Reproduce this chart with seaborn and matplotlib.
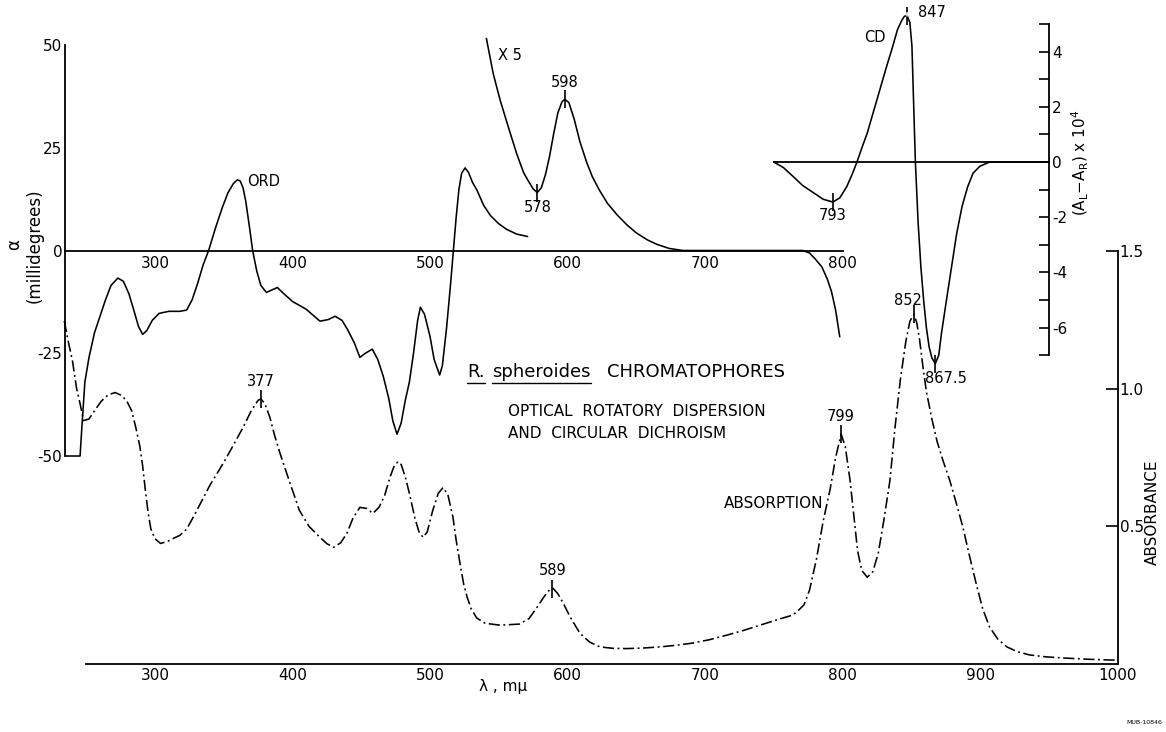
import numpy as np
import matplotlib
matplotlib.use("Agg")
import matplotlib.pyplot as plt
import seaborn as sns
from matplotlib.lines import Line2D

# ---------------- data ----------------
ord_nm = [235, 245.5, 247, 249, 252, 256, 260, 264, 268, 273, 277, 281, 285, 288, 291,
          294, 298, 303, 310, 318, 323, 327, 331, 335, 339, 344, 349, 353, 357, 360,
          362, 364, 366, 369, 371, 374, 377, 381, 385, 389, 393, 400, 410, 420, 426, 431,
          436, 440, 445, 449, 453, 458, 462, 466, 470, 473, 476, 479, 482, 485, 488,
          491, 493, 496, 500, 503, 507, 509, 512, 515, 517, 519, 521, 523, 525.5, 528,
          531, 534, 539, 544, 550, 556, 563, 571]
ord_mdeg = [-50, -50, -42, -32, -26, -20, -16, -12, -8.5, -6.7, -7.5, -10.5, -15, -18.5, -20.4,
            -19.5, -17, -15.3, -14.8, -14.8, -14.5, -12, -8, -3.5, 0, 5.5, 10.5, 14, 16.3, 17.2,
            16.9, 15.3, 12, 5, 0, -5, -8.5, -10.2, -9.6, -9, -10.3, -12.4, -14.3, -17.2, -16.8, -16,
            -17, -19.2, -22.5, -26, -25, -24, -26.5, -30.6, -36, -41.5, -44.7, -42, -36.5, -32, -25,
            -17, -13.8, -15.5, -20.9, -26.5, -30.3, -28, -19, -8, 0, 8, 14.8, 18.8, 20.1, 19,
            16.5, 14.8, 11, 8.5, 6.5, 5.1, 4, 3.4]

ordx5_nm = [541, 546, 551, 557, 563, 568, 571, 575, 578, 581, 584, 587, 590, 593, 596,
            598, 601, 605, 609, 614, 618, 623, 629, 636, 643, 650, 658, 665, 674, 684,
            700, 720, 740, 760, 771, 776, 780, 785, 789, 792, 795, 798]
ordx5_mdeg = [51.6, 43, 36.6, 30, 23.6, 19, 17.2, 15, 14.1, 15.3, 18.5, 23, 28.5, 33.5, 36.2,
              36.8, 36, 31.8, 26.5, 21.4, 18, 14.8, 11.5, 8.7, 6.3, 4.3, 2.6, 1.5, 0.5, 0,
              0, 0, 0, 0, 0, -0.6, -2, -4, -7, -10, -14.5, -21]

cd_nm = [750, 757, 764, 771, 778.5, 786, 793, 798, 803, 807, 810.5, 814, 818, 821.5, 825,
         828.5, 832, 836, 840, 843, 845, 847, 849, 850.5, 851.5, 853, 855, 857, 859, 861, 863,
         865, 867.5, 870, 872, 875, 879, 883, 887, 891, 895, 900, 907, 950]
cd_val = [0, -0.2, -0.52, -0.85, -1.1, -1.35, -1.45, -1.3, -0.9, -0.45, 0, 0.5, 1.05, 1.65, 2.25,
          2.85, 3.45, 4.1, 4.8, 5.12, 5.28, 5.3, 5.05, 4.2, 2.5, 0, -2.2, -3.8, -5.0, -6.0, -6.7,
          -7.1, -7.3, -7.0, -6.2, -5.2, -3.9, -2.6, -1.6, -0.9, -0.4, -0.15, 0, 0]

abs_nm = [234, 237, 240, 243, 245.5, 248, 252, 256, 261, 266, 271, 276, 280, 283, 286,
          289, 291, 293, 295, 297, 300, 304, 309, 314, 318, 323, 328, 333, 340, 349.5,
          357, 364, 370, 375, 377, 380, 383.6, 387, 391, 398, 405, 412, 420, 425, 430,
          435, 439.6, 444, 449, 454, 458.5, 463, 467, 471, 474, 476.7, 479, 482, 485, 489,
          492, 495, 498, 502, 506, 509.5, 513, 516.7, 519, 522, 524.5, 527, 530, 534, 540,
          551, 565, 572, 578, 583, 587, 589.5, 593, 597, 602, 609, 616, 623.6, 633, 643,
          655, 667, 679, 691, 703, 716, 728, 740, 752, 764, 769, 772, 776, 781, 786,
          791, 795, 799, 802, 805.5, 808, 811, 814, 818, 822, 826, 830, 834.5, 838, 842,
          846, 849, 852, 854, 856, 858.5, 861, 865, 868.7, 873, 878, 883, 887.6, 892, 897.8,
          902, 907, 913, 919.6, 927, 936, 948, 960, 980, 998]
abs_val = [1.246, 1.17, 1.10, 1.0, 0.946, 0.884, 0.89, 0.92, 0.955, 0.978, 0.986, 0.975, 0.95, 0.92, 0.86,
           0.79, 0.72, 0.63, 0.55, 0.49, 0.455, 0.438, 0.445, 0.458, 0.467, 0.49, 0.535, 0.583, 0.65, 0.728,
           0.795, 0.859, 0.92, 0.958, 0.963, 0.945, 0.895, 0.83, 0.764, 0.66, 0.558, 0.5, 0.46, 0.437, 0.424,
           0.44, 0.475, 0.53, 0.569, 0.565, 0.547, 0.57, 0.612, 0.68, 0.72, 0.735, 0.725, 0.68, 0.62, 0.53,
           0.48, 0.46, 0.48, 0.558, 0.62, 0.641, 0.615, 0.533, 0.45, 0.36, 0.29, 0.243, 0.2, 0.167, 0.148,
           0.141, 0.145, 0.165, 0.207, 0.245, 0.27, 0.275, 0.255, 0.22, 0.17, 0.112, 0.08, 0.062, 0.057, 0.056,
           0.058, 0.062, 0.068, 0.076, 0.088, 0.105, 0.122, 0.141, 0.16, 0.178, 0.2, 0.215, 0.268, 0.38, 0.52,
           0.635, 0.75, 0.835, 0.79, 0.667, 0.55, 0.41, 0.34, 0.315, 0.335, 0.402, 0.52, 0.667, 0.85, 1.03,
           1.17, 1.245, 1.27, 1.24, 1.18, 1.08, 0.99, 0.89, 0.81, 0.74, 0.667, 0.58, 0.496, 0.4, 0.28,
           0.2, 0.134, 0.09, 0.062, 0.045, 0.033, 0.026, 0.022, 0.017, 0.014]

abs_peaks = [377, 589, 799, 852]
abs_peak_labels = ["377", "589", "799", "852"]
ordx5_marks = [598, 578]
ordx5_mark_labels = ["598", "578"]
cd_marks = [793, 847, 867.5]
cd_mark_labels = ["793", "847", "867.5"]

ord_xticks = [300, 400, 500, 600, 700, 800]
ord_xminor = [250, 350, 450, 550, 650, 750]
ord_yticks = [-50, -25, 0, 25, 50]
abs_xticks = [300, 400, 500, 600, 700, 800, 900, 1000]
abs_xminor = [250, 350, 450, 550, 650, 750, 850, 950]
abs_yticks = [0.5, 1.0, 1.5]
cd_xticks = [800, 900]
cd_xminor = [750, 850]
cd_yticks = [-6, -4, -2, 0, 2, 4]
cd_yminor = [-7, -5, -3, -1, 1, 3, 5]

# ---------------- figure ----------------
W, H = 1166, 732
sns.set_theme(style="white")
plt.rcParams['font.family'] = ['DejaVu Sans']
plt.rcParams['axes.unicode_minus'] = False
plt.rcParams['mathtext.default'] = 'regular'
for k in ('text.color', 'axes.labelcolor', 'xtick.color', 'ytick.color', 'axes.edgecolor'):
    plt.rcParams[k] = 'black'

fig = plt.figure(figsize=(W / 100, H / 100), dpi=100)
fig.patch.set_facecolor('white')

def fpos(x, y):
    return x / W, 1 - y / H

XL = (187.27, 1035.27)
LW = 1.15
TXT = 11

ax_a = fig.add_axes([0, 0, 1, 1])
ax_o = fig.add_axes([0, 0, 1, 1])
ax_c = fig.add_axes([0, 0, 1, 1])
for ax in (ax_a, ax_o, ax_c):
    ax.set_facecolor('none')
    ax.set_xlim(*XL)
    for s in ax.spines.values():
        s.set_linewidth(1.3)
        s.set_color('black')

ax_o.set_ylim(-117.15, 60.95)
ax_c.set_ylim(-20.65, 5.87)
ax_a.set_ylim(-0.247, 2.412)

# curves
sns.lineplot(x=ord_nm, y=ord_mdeg, ax=ax_o, color='black', lw=LW, estimator=None, sort=False)
sns.lineplot(x=ordx5_nm, y=ordx5_mdeg, ax=ax_o, color='black', lw=LW, estimator=None, sort=False)
sns.lineplot(x=cd_nm, y=cd_val, ax=ax_c, color='black', lw=LW, estimator=None, sort=False)
sns.lineplot(x=abs_nm, y=abs_val, ax=ax_a, color='black', lw=LW, estimator=None, sort=False,
             linestyle=(0, (7, 2.2, 1.2, 2.2)))
for ax in (ax_a, ax_o, ax_c):
    for ln in ax.lines:
        ln.set_clip_on(False)
        ln.set_solid_joinstyle('round')
    ax.set_xlabel('')
    ax.set_ylabel('')

# ORD axes
ax_o.spines['top'].set_visible(False)
ax_o.spines['right'].set_visible(False)
ax_o.spines['left'].set_position(('data', 234.5))
ax_o.spines['left'].set_bounds(-50, 50)
ax_o.spines['bottom'].set_position(('data', 0))
ax_o.spines['bottom'].set_bounds(234.5, 800)
ax_o.set_xticks(ord_xticks)
ax_o.set_xticklabels([str(v) for v in ord_xticks])
ax_o.set_xticks(ord_xminor, minor=True)
ax_o.set_yticks(ord_yticks)
ax_o.set_yticklabels([str(v) for v in ord_yticks])
ax_o.tick_params(axis='x', which='major', direction='in', length=7, width=1.2, pad=4, labelsize=TXT)
ax_o.tick_params(axis='x', which='minor', direction='in', length=3.5, width=1.2)
ax_o.tick_params(axis='y', which='major', direction='in', length=8, width=1.2, pad=2, labelsize=TXT)

# Absorbance axes
ax_a.spines['top'].set_visible(False)
ax_a.spines['left'].set_visible(False)
ax_a.spines['bottom'].set_position(('data', 0))
ax_a.spines['bottom'].set_bounds(250, 1000)
ax_a.spines['right'].set_position(('data', 1000))
ax_a.spines['right'].set_bounds(0, 1.5)
ax_a.yaxis.tick_right()
ax_a.set_xticks(abs_xticks)
ax_a.set_xticklabels([str(v) for v in abs_xticks])
ax_a.set_xticks(abs_xminor, minor=True)
ax_a.set_yticks(abs_yticks)
ax_a.set_yticklabels(['%.1f' % v for v in abs_yticks])
ax_a.tick_params(axis='x', which='major', direction='in', length=9, width=1.2, pad=3, labelsize=TXT)
ax_a.tick_params(axis='x', which='minor', direction='in', length=5, width=1.2)
ax_a.tick_params(axis='y', which='major', direction='in', length=9, width=1.2, pad=1.5, labelsize=TXT,
                 left=False, right=True, labelleft=False, labelright=True)

# CD axes
ax_c.spines['top'].set_visible(False)
ax_c.spines['left'].set_visible(False)
ax_c.spines['bottom'].set_position(('data', 0))
ax_c.spines['bottom'].set_bounds(750, 950)
ax_c.spines['right'].set_position(('data', 950))
ax_c.spines['right'].set_bounds(-7, 5)
ax_c.yaxis.tick_right()
ax_c.set_xticks(cd_xticks)
ax_c.set_xticklabels([])
ax_c.set_xticks(cd_xminor, minor=True)
ax_c.set_yticks(cd_yticks)
ax_c.set_yticklabels([str(v) for v in cd_yticks])
ax_c.set_yticks(cd_yminor, minor=True)
ax_c.tick_params(axis='x', which='major', direction='in', length=8, width=1.2, labelbottom=False)
ax_c.tick_params(axis='x', which='minor', direction='in', length=4, width=1.2)
ax_c.tick_params(axis='y', which='major', direction='in', length=7, width=1.2, pad=2.5, labelsize=TXT,
                 left=False, right=True, labelleft=False, labelright=True)
ax_c.tick_params(axis='y', which='minor', direction='in', length=7, width=1.2, left=False, right=True)

# ---------------- peak marks ----------------
PT = 0.72  # points per pixel
def mark(ax, xs, ys, label, dx, dy, ha='center'):
    yv = float(np.interp(label[0], xs, ys))
    ax.plot([label[0]], [yv], marker='|', ms=13, mew=1.2, color='black', clip_on=False)
    ax.annotate(label[1], xy=(label[0], yv), xytext=(dx * PT, dy * PT), textcoords='offset points',
                ha=ha, va='center', fontsize=10.5)

abs_off = {377: (0, 17), 589: (0, 18), 799: (0, 18), 852: (-6, 14)}
for p, t in zip(abs_peaks, abs_peak_labels):
    mark(ax_a, abs_nm, abs_val, (p, t), *abs_off[p])

x5_off = {598: (0, 17), 578: (0, -15)}
for p, t in zip(ordx5_marks, ordx5_mark_labels):
    mark(ax_o, ordx5_nm, ordx5_mdeg, (p, t), *x5_off[p])

for p, t in zip(cd_marks, cd_mark_labels):
    yv = float(np.interp(p, cd_nm, cd_val))
    ax_c.plot([p], [yv], marker='|', ms=13, mew=1.2, color='black', clip_on=False)
    if t == "847":
        ax_c.annotate(t, xy=(p, yv), xytext=(11 * PT, 3 * PT), textcoords='offset points',
                      ha='left', va='center', fontsize=10.5,
                      arrowprops=dict(arrowstyle='-', lw=1.1, shrinkA=0, shrinkB=0, relpos=(0, 0.5),
                                      connectionstyle='angle,angleA=0,angleB=90,rad=0'))
    elif t == "793":
        ax_c.annotate(t, xy=(p, yv), xytext=(0, -13 * PT), textcoords='offset points',
                      ha='center', va='center', fontsize=10.5)
    else:
        ax_c.annotate(t, xy=(p, yv), xytext=(11 * PT, -15 * PT), textcoords='offset points',
                      ha='center', va='center', fontsize=10.5)

# ---------------- texts ----------------
fig.text(*fpos(264, 182), "ORD", ha='center', va='center', fontsize=10.5)
fig.text(*fpos(510, 55), "X 5", ha='center', va='center', fontsize=10.5)
fig.text(*fpos(875, 38), "CD", ha='center', va='center', fontsize=10.5)
fig.text(*fpos(774, 503), "ABSORPTION", ha='center', va='center', fontsize=11)
t1 = fig.text(*fpos(467, 372), "R.", ha='left', va='center', fontsize=13)
t2 = fig.text(*fpos(492, 372), "spheroides", ha='left', va='center', fontsize=13)
fig.text(*fpos(607, 372), "CHROMATOPHORES", ha='left', va='center', fontsize=13)
fig.text(*fpos(508, 412), "OPTICAL  ROTATORY  DISPERSION", ha='left', va='center', fontsize=11)
fig.text(*fpos(508, 433), "AND  CIRCULAR  DICHROISM", ha='left', va='center', fontsize=11)
fig.text(*fpos(503, 687), "λ , mμ", ha='center', va='center', fontsize=11)
fig.text(*fpos(14, 245), "α", ha='center', va='center', fontsize=12, rotation=90)
fig.text(*fpos(35, 246), "(millidegrees)", ha='center', va='center', fontsize=12, rotation=90)
fig.text(*fpos(1080, 163), "(A$_L$$-$A$_R$) x 10$^4$", ha='center', va='center', fontsize=11, rotation=90)
fig.text(*fpos(1152, 512), "ABSORBANCE", ha='center', va='center', fontsize=11, rotation=90)
fig.text(*fpos(1162, 722), "MUB-10846", ha='right', va='center', fontsize=4.5)

# underline R. spheroides
fig.canvas.draw()
r = fig.canvas.get_renderer()
for t in (t1, t2):
    bb = t.get_window_extent(renderer=r)
    yline = bb.y0 - 1.5
    fig.add_artist(Line2D([bb.x0 / W, bb.x1 / W], [yline / H, yline / H], color='black', lw=1.0))

fig.savefig("out.png", dpi=100, facecolor='white')
